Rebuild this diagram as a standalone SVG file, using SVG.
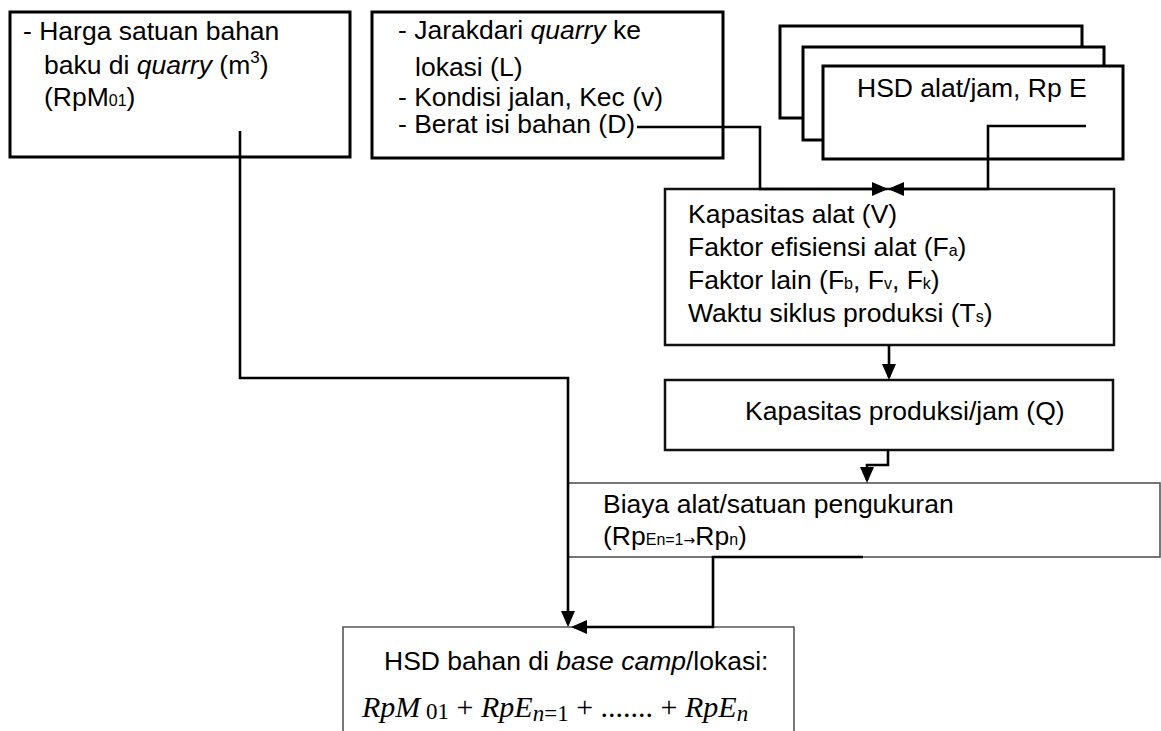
<svg xmlns="http://www.w3.org/2000/svg" width="1161" height="731" viewBox="0 0 1161 731">
<style>
text { font-family: "Liberation Sans", Arial, sans-serif; font-size: 26.5px; fill: #000; }
.box { fill: #fff; stroke: #000; stroke-width: 3; }
.mid { fill: #fff; stroke: #111; stroke-width: 2.5; }
.thin { fill: #fff; stroke: #555; stroke-width: 1.6; }
.conn { fill: none; stroke: #000; stroke-width: 2.6; }
.sub { font-size: 16px; }
.arr { font-family: "DejaVu Sans", sans-serif; font-size: 14px; }
.it { font-style: italic; }
.f { font-family: "Liberation Serif", "Times New Roman", serif; font-size: 30px; }
.fs { font-size: 23px; }
</style>
<defs>
<marker id="ah" markerUnits="userSpaceOnUse" markerWidth="16" markerHeight="14" viewBox="0 0 16 14" refX="13" refY="7" orient="auto"><path d="M0 0 L16 7 L0 14 z" fill="#000"/></marker>
</defs>

<g id="bahan-baku">
<rect class="box" x="10" y="12" width="340" height="145"/>
<text x="23" y="40">- Harga satuan bahan</text>
<text x="44" y="74">baku di <tspan class="it">quarry</tspan> (m<tspan font-size="17" dy="-11">3</tspan><tspan dy="11">)</tspan></text>
<text x="44" y="106">(RpM<tspan class="sub">01</tspan>)</text>
</g>

<g id="jarak">
<rect class="box" x="372" y="12" width="351" height="146"/>
<text x="398" y="39">- Jarakdari <tspan class="it">quarry</tspan> ke</text>
<text x="415" y="76">lokasi (L)</text>
<text x="398" y="106">- Kondisi jalan, Kec (v)</text>
<text x="398" y="133">- Berat isi bahan (D)</text>
</g>

<g id="hsd-alat">
<rect class="box" x="780" y="26" width="302" height="92"/>
<rect class="box" x="803" y="47" width="301" height="93"/>
<rect class="box" x="823" y="66" width="300" height="93"/>
<text x="857" y="97">HSD alat/jam, Rp E</text>
</g>

<g id="kapasitas-alat">
<rect class="mid" x="665" y="189" width="449" height="156"/>
<text x="688" y="223">Kapasitas alat (V)</text>
<text x="688" y="256">Faktor efisiensi alat (F<tspan class="sub">a</tspan>)</text>
<text x="688" y="289">Faktor lain (F<tspan class="sub">b</tspan>, F<tspan class="sub">v</tspan>, F<tspan class="sub">k</tspan>)</text>
<text x="688" y="322">Waktu siklus produksi (T<tspan class="sub">s</tspan>)</text>
</g>

<g id="kapasitas-produksi">
<rect class="mid" x="665" y="380" width="448" height="70"/>
<text x="745" y="420">Kapasitas produksi/jam (Q)</text>
</g>

<g id="biaya-alat">
<rect class="thin" x="568" y="483" width="592" height="74"/>
<text x="603" y="513">Biaya alat/satuan pengukuran</text>
<text x="603" y="545">(Rp<tspan class="sub">En=1</tspan><tspan class="arr">→</tspan>Rp<tspan class="sub">n</tspan>)</text>
</g>

<g id="hsd-bahan">
<path class="thin" d="M343 735 V627 H794 V735"/>
<text x="384" y="670">HSD bahan di <tspan class="it">base camp</tspan>/lokasi:</text>
<text class="f" x="362" y="717"><tspan class="it">RpM</tspan><tspan class="fs" dy="2"> 01</tspan><tspan dy="-2"> + </tspan><tspan class="it">RpE</tspan><tspan class="fs it" dy="4">n</tspan><tspan class="fs">=1</tspan><tspan dy="-4"> + ....... + </tspan><tspan class="it">RpE</tspan><tspan class="fs it" dy="4">n</tspan></text>
</g>

<g id="connectors">
<path class="conn" stroke-width="3" d="M240 131 V378 H568 V624" marker-end="url(#ah)"/>
<path class="conn" d="M637 127 H760 V189 H885" marker-end="url(#ah)"/>
<path class="conn" d="M1086 126 H988 V189 H891" marker-end="url(#ah)"/>
<path class="conn" d="M889 345 V377" marker-end="url(#ah)"/>
<path class="conn" d="M888 450 V465 H867 V480" marker-end="url(#ah)"/>
<path class="conn" d="M863 557 H713 V627 H574" marker-end="url(#ah)"/>
</g>
</svg>
